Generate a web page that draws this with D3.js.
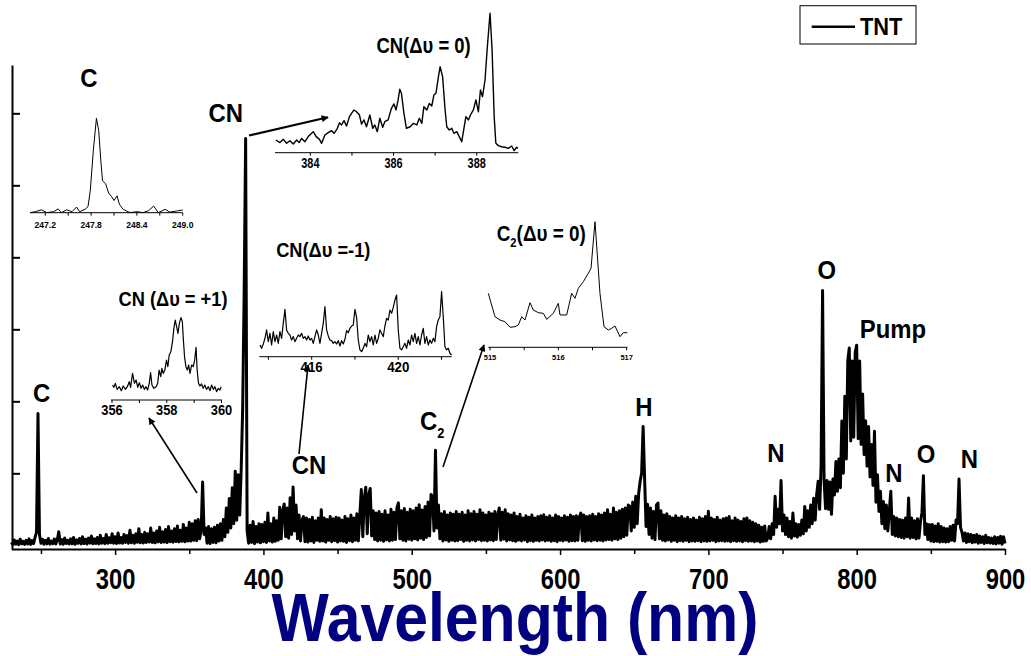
<!DOCTYPE html>
<html><head><meta charset="utf-8">
<script src="https://cdn.jsdelivr.net/npm/d3@7"></script>
<style>body{margin:0;background:#fff}svg{display:block}</style>
</head><body>
<svg id="chart" width="1031" height="656"></svg>
<script>
const FONT = "'Liberation Sans', Arial, Helvetica, sans-serif";

// ---------------- main spectrum (1 nm sampling, counts) ----------------
const mainStart = 230, mainStep = 1;
const mainCounts = [
 40,12,75,15,60,10,85,20,55,14,
 70,18,90,12,65,25,110,180,1830,150,
 30,85,14,70,20,95,16,60,22,88,
 18,75,190,20,80,15,100,25,70,18,
 90,20,110,16,75,28,95,20,120,24,
 85,18,100,30,130,22,90,26,110,20,
 140,30,95,24,150,28,105,35,160,30,
 120,26,170,32,110,28,150,40,135,30,
 210,35,140,30,160,42,230,36,150,32,
 180,38,160,45,240,40,170,35,200,48,
 250,40,190,46,220,38,260,50,200,44,
 230,52,270,48,210,56,290,50,240,60,
 320,60,300,70,340,65,360,90,210,880,
 150,240,30,260,25,230,40,250,35,280,
 60,300,70,360,120,520,180,650,240,800,
 300,1030,350,980,420,1050,1900,3500,5650,200,
 30,280,40,330,25,260,45,300,35,290,
 50,320,40,450,60,300,45,380,55,340,
 70,530,90,480,575,120,520,100,660,150,
 810,200,560,90,420,60,350,400,50,380,
 45,360,60,390,40,340,70,380,55,495,
 60,380,45,360,70,400,50,370,65,390,
 45,380,60,350,55,400,40,370,65,420,
 50,380,70,440,60,420,775,120,650,806,
 160,700,790,130,480,80,450,60,470,70,
 430,55,480,75,420,60,500,70,460,80,
 520,590,90,480,70,510,60,460,85,500,
 70,480,90,520,75,565,100,490,80,540,
 110,600,130,705,680,200,1320,240,560,90,
 440,60,470,75,420,55,450,70,430,60,
 470,65,430,80,460,55,420,70,480,60,
 440,75,470,60,430,80,495,65,450,70,
 420,60,460,75,440,65,470,80,430,518,
 70,460,85,495,60,440,75,420,65,450,
 55,400,70,430,60,380,75,410,50,390,
 65,420,55,380,70,400,60,410,75,425,
 60,390,70,410,55,380,65,420,50,400,
 70,380,60,410,75,390,55,420,65,400,
 60,410,70,390,448,65,420,55,400,70,
 410,60,430,75,400,65,440,70,420,60,
 450,75,495,80,430,70,518,90,460,80,
 480,100,500,120,520,140,560,540,200,600,
 250,680,300,720,890,1000,1650,935,260,570,
 150,520,100,470,80,560,587,90,480,70,
 420,60,440,75,400,55,380,70,410,50,
 380,65,400,55,370,70,390,50,360,60,
 380,55,350,65,390,50,370,60,400,55,
 472,60,380,70,360,50,390,60,350,65,
 370,55,380,60,400,50,340,65,380,55,
 350,60,330,50,370,65,380,55,340,60,
 320,50,300,60,280,45,250,55,270,60,
 100,260,90,300,150,680,250,500,300,900,
 200,420,150,380,120,330,100,448,130,300,
 115,290,140,350,160,540,200,480,250,560,
 300,653,350,700,889,500,1100,3540,917,508,
 900,500,880,430,920,700,1165,750,1200,800,
 1725,1000,2070,1200,2560,2740,1450,2560,1500,2680,
 2780,1480,2560,1400,2100,1260,1730,1100,1650,950,
 1400,830,1585,600,980,470,750,300,610,230,
 560,200,480,751,150,400,130,380,120,360,
 110,350,100,380,120,657,100,380,110,340,
 90,370,100,330,450,968,150,300,80,290,
 60,290,50,270,55,300,45,260,50,240,
 45,230,50,260,70,280,60,350,300,920,
 250,180,60,170,40,160,50,150,35,140,
 45,150,30,130,40,120,25,140,35,110,
 30,100,25,120,20,110,30,125,15,120,
 25
];
const xTickValues = [300,400,500,600,700,800,900];
const xMinorTicks = [250,350,450,550,650,750,850];
const yTickValues = [1000,2000,3000,4000,5000,6000];

// ---------------- inset spectra (relative intensity %) ----------------
const insetC_w = [247.00,247.07,247.15,247.22,247.31,247.37,247.41,247.48,247.55,247.61,247.65,247.72,247.76,247.79,247.83,247.87,247.90,247.93,247.95,247.99,248.03,248.07,248.10,248.14,248.17,248.22,248.31,248.40,248.48,248.55,248.62,248.68,248.77,248.83,248.92,249.00];
const insetC_v = [-1,0,2,-1,0,3,-1,2,0,5,0,2.5,5.5,23,66,100,87,52,33,30,20,16,12,17,8,2.5,-1,0,-1,1,6,-1,2.5,-0.4,0.7,1.8];
const insetC_ticks = [247.2,247.8,248.4,249.0];
const insetC_minor = [247.5,248.1,248.7];

const insetCN0_w = [383.17,383.27,383.35,383.43,383.51,383.59,383.67,383.73,383.79,383.87,383.95,384.01,384.07,384.14,384.22,384.27,384.35,384.43,384.51,384.57,384.65,384.70,384.75,384.81,384.87,384.94,384.99,385.05,385.11,385.18,385.23,385.29,385.35,385.43,385.50,385.55,385.61,385.67,385.74,385.79,385.87,385.95,386.01,386.06,386.11,386.15,386.19,386.25,386.31,386.40,386.48,386.56,386.62,386.68,386.73,386.80,386.86,386.92,386.97,387.02,387.08,387.12,387.18,387.24,387.28,387.34,387.40,387.45,387.52,387.58,387.64,387.68,387.74,387.80,387.85,387.92,387.98,388.04,388.09,388.14,388.20,388.25,388.32,388.37,388.42,388.46,388.52,388.60,388.68,388.76,388.84,388.90,388.96,388.99];
const insetCN0_v = [7.3,5.4,7.8,4.9,6.8,4.4,7.3,5.4,8.5,6.1,9.8,11.7,13.4,9.8,7.8,4.9,11,12.7,14.1,12.2,15.9,20,18.3,21.5,17.6,24.4,26.8,29.3,28,25.6,19,22,17,25.6,15.9,18.3,13.4,23.2,16.6,20.7,22,30.5,33.7,29.3,36.6,44.4,41.5,26.8,15.9,17,19.5,18.3,23.2,19.5,31.7,29.3,34.1,32.2,40.2,41.5,53.7,61,53.7,29.3,17,14.6,15.9,12.2,13.4,9.8,6.1,13.4,24.4,22,25.6,29.3,36.6,28,43.9,39,51.2,73.2,100,73.2,24.4,4.9,3.2,2.4,2,1.2,2.9,-0.5,2,1.2];
const insetCN0_ticks = [384,385,386,387,388];
const insetCN0_labels = [384,386,388];

const insetCNp1_w = [356.02,356.07,356.12,356.19,356.27,356.34,356.41,356.49,356.56,356.63,356.68,356.75,356.82,356.88,356.94,357.00,357.06,357.12,357.18,357.24,357.30,357.36,357.41,357.46,357.53,357.61,357.67,357.72,357.78,357.82,357.87,357.93,357.99,358.04,358.09,358.15,358.21,358.26,358.31,358.36,358.41,358.46,358.52,358.57,358.60,358.65,358.70,358.75,358.80,358.85,358.91,358.97,359.02,359.07,359.11,359.16,359.21,359.27,359.33,359.39,359.45,359.52,359.58,359.64,359.70,359.76,359.82,359.88,359.94,359.99];
const insetCNp1_v = [6.9,3.7,9.2,0.9,4.6,-0.9,5.5,0.9,4.6,11.5,3.7,23,9.2,13.8,3.7,10.1,2.3,6.9,0.9,4.6,0,9.2,24,6.9,2.3,4.6,9.2,27.6,18.4,30,23,27.6,41.5,32.3,48.4,53,66.8,85.3,96.8,87.6,78.3,92.2,100,94.5,73.7,46,32.3,27.6,34.6,23,34.6,32.3,41.5,59,27.6,9.2,5.5,8.3,2.3,6.9,0.9,4.6,-0.9,6.9,0.9,4.6,-2.3,2.3,0,4.6];
const insetCNp1_ticks = [356,357,358,359,360];
const insetCNp1_labels = [356,358,360];

const insetCNm1_start = 413.61, insetCNm1_step = 0.077;
const insetCNm1_v = [5.9,0,7.6,17.6,32.4,11.8,26.5,5.9,29.4,11.8,
 23.5,8.8,29.4,17.6,44.1,68.8,32.4,26.5,23.5,14.7,
 20.6,11.8,17.6,23.5,20.6,26.5,17.6,20.6,14.7,21.8,
 14.7,17.6,8.8,20.6,32.4,23.5,8.8,26.5,44.1,73.5,
 32.4,21.8,14.7,13.5,8.8,11.8,7.6,13.5,4.1,13.5,
 7.6,15.9,31.2,27.6,35.3,39.4,41.2,68.8,54.7,14.7,
 -2.9,-5.9,0,8.8,2.9,23.5,11.8,20.6,5.9,23.5,
 8.8,17.6,32.4,26.5,20.6,39.4,52.9,50,67.6,61.8,
 72.4,85.3,94.1,32.4,0,-2.9,2.9,8.8,0,14.7,
 5.9,23.5,11.8,26.5,8.8,20.6,5.9,23.5,35.3,8.8,
 20.6,5.9,14.7,8.8,17.6,11.8,38.2,50,55.9,100,
 55.9,2.9,-2.9,0,-8.8,-11.8];
const insetCNm1_ticks = [414,416,418,420,422];
const insetCNm1_labels = [416,420];

const insetC2_w = [514.975,515.073,515.146,515.219,515.293,515.366,515.414,515.464,515.512,515.585,515.634,515.707,515.780,515.830,515.926,515.999,516.024,516.122,516.195,516.244,516.292,516.365,516.438,516.478,516.536,516.609,516.668,516.731,516.780,516.829,516.902,516.950,517.009];
const insetC2_v = [37.7,17.4,14.5,13,8.2,8.7,10.2,17.4,14.5,29.6,23.2,20.9,20.3,15.1,20.3,29,18.9,18.9,37.7,33.4,42.1,47.8,55.1,59.5,100,37.7,8.7,5.8,7.3,9.3,0,3.5,3.5];
const insetC2_ticks = [515,515.5,516,516.5,517];
const insetC2_labels = [515,516,517];

const legendLabel = "TNT";
const axisTitle = "Wavelength (nm)";

// ---------------- drawing ----------------
const svg = d3.select("#chart");
svg.append("rect").attr("width",1031).attr("height",656).attr("fill","#fff");

const x = d3.scaleLinear().domain([230, 900]).range([11.3, 1005]);
const y = d3.scaleLinear().domain([-51, 6671]).range([549, 65]);

function label(g, s, px, py, size, sx, anchor, fill) {
  return g.append("text")
    .attr("transform", `translate(${px},${py}) scale(${sx},1)`)
    .attr("text-anchor", anchor || "middle")
    .attr("font-family", FONT).attr("font-weight", "bold")
    .attr("font-size", size).attr("fill", fill || "#000")
    .text(s);
}

const mainData = mainCounts.map((c, i) => [mainStart + i * mainStep, c]);
svg.append("path").datum(mainData)
  .attr("fill", "none").attr("stroke", "#000").attr("stroke-width", 3)
  .attr("stroke-linejoin", "round")
  .attr("d", d3.line().x(d => x(d[0])).y(d => y(d[1])));

// x axis
const xAxisG = svg.append("g").attr("transform", "translate(0,549)");
xAxisG.call(d3.axisBottom(x).tickValues(xTickValues).tickSize(6).tickSizeOuter(0).tickFormat(d3.format("d")));
xAxisG.select(".domain").attr("stroke-width", 2);
xAxisG.selectAll(".tick line").attr("stroke-width", 1.5);
xAxisG.selectAll(".tick text")
  .attr("y", 40).attr("dy", 0)
  .attr("transform", "scale(0.82,1)")
  .attr("font-family", FONT).attr("font-weight", "bold").attr("font-size", 29).attr("fill", "#000");
const xMinorG = svg.append("g").attr("transform", "translate(0,549)");
xMinorG.call(d3.axisBottom(x).tickValues(xMinorTicks).tickSize(5).tickSizeOuter(0).tickFormat(""));
xMinorG.select(".domain").remove();
xMinorG.selectAll(".tick line").attr("stroke-width", 1.5);

// y axis
const yAxisG = svg.append("g").attr("transform", "translate(12,0)");
yAxisG.call(d3.axisRight(y).tickValues(yTickValues).tickSize(8).tickSizeOuter(0).tickFormat(""));
yAxisG.select(".domain").attr("stroke-width", 2);
yAxisG.selectAll(".tick line").attr("stroke-width", 2);

// axis title
label(svg, axisTitle, 515, 641, 69, 0.88, "middle", "#000080");

// legend
svg.append("rect").attr("x", 800).attr("y", 5.7).attr("width", 116).attr("height", 38.3)
  .attr("fill", "#fff").attr("stroke", "#000").attr("stroke-width", 1);
svg.append("line").attr("x1", 811.7).attr("x2", 855).attr("y1", 26.7).attr("y2", 26.7)
  .attr("stroke", "#000").attr("stroke-width", 2.5);
label(svg, legendLabel, 860, 35, 23, 0.95, "start");

// insets
function drawInset(cfg) {
  const g = svg.append("g");
  const ix = d3.scaleLinear().domain(cfg.xDomain).range(cfg.xRange);
  const iy = d3.scaleLinear().domain([0, 100]).range(cfg.yRange);
  g.append("line").attr("x1", cfg.axisX[0]).attr("x2", cfg.axisX[1])
    .attr("y1", cfg.axisY).attr("y2", cfg.axisY).attr("stroke", "#000").attr("stroke-width", 1);
  cfg.ticks.forEach(t => g.append("line").attr("x1", ix(t)).attr("x2", ix(t))
    .attr("y1", cfg.axisY).attr("y2", cfg.axisY + cfg.tickLen).attr("stroke", "#000").attr("stroke-width", 1));
  cfg.labels.forEach(t => label(g, cfg.fmt(t), ix(t), cfg.labelY, cfg.labelSize, cfg.labelSx));
  const pts = cfg.w.map((w, i) => [w, cfg.v[i]]);
  g.append("path").datum(pts).attr("fill", "none").attr("stroke", "#000")
    .attr("stroke-width", cfg.lw).attr("stroke-linejoin", "round")
    .attr("d", d3.line().x(d => ix(d[0])).y(d => iy(d[1])));
}

drawInset({ w: insetC_w, v: insetC_v, xDomain: [247.0, 249.0], xRange: [30, 182.7],
  yRange: [211.7, 118.3], axisY: 212.7, axisX: [30, 182.7],
  ticks: insetC_ticks.concat(insetC_minor), tickLen: 3, labels: insetC_ticks,
  fmt: d3.format(".1f"), labelY: 228.3, labelSize: 9.5, labelSx: 0.9, lw: 1 });

drawInset({ w: insetCN0_w, v: insetCN0_v, xDomain: [383.15, 389.0], xRange: [275, 518.3],
  yRange: [150, 13.3], axisY: 152.7, axisX: [275, 518.3],
  ticks: insetCN0_ticks, tickLen: 3, labels: insetCN0_labels,
  fmt: d3.format("d"), labelY: 168.3, labelSize: 14, labelSx: 0.78, lw: 1.4 });

drawInset({ w: insetCNp1_w, v: insetCNp1_v, xDomain: [356, 360], xRange: [112, 221.5],
  yRange: [390, 317.7], axisY: 400, axisX: [111, 222],
  ticks: insetCNp1_ticks, tickLen: 3, labels: insetCNp1_labels,
  fmt: d3.format("d"), labelY: 415, labelSize: 14, labelSx: 0.92, lw: 1.2 });

drawInset({ w: insetCNm1_v.map((_, i) => insetCNm1_start + i * insetCNm1_step), v: insetCNm1_v,
  xDomain: [413.58, 422.47], xRange: [259.3, 451.7],
  yRange: [348.3, 291.7], axisY: 356.7, axisX: [259.3, 451.7],
  ticks: insetCNm1_ticks, tickLen: 3, labels: insetCNm1_labels,
  fmt: d3.format("d"), labelY: 372, labelSize: 14, labelSx: 0.95, lw: 1.2 });

drawInset({ w: insetC2_w, v: insetC2_v, xDomain: [515, 517], xRange: [490, 626.7],
  yRange: [336.7, 221.7], axisY: 347.3, axisX: [488.3, 627.3],
  ticks: insetC2_ticks, tickLen: 3, labels: insetC2_labels,
  fmt: d3.format("d"), labelY: 360, labelSize: 7.5, labelSx: 1, lw: 1 });

// arrows
const defs = svg.append("defs");
defs.append("marker").attr("id", "ah").attr("viewBox", "0 0 10 10")
  .attr("refX", 9).attr("refY", 5).attr("markerWidth", 10).attr("markerHeight", 7)
  .attr("markerUnits", "userSpaceOnUse").attr("orient", "auto")
  .append("path").attr("d", "M0,0 L10,5 L0,10 z").attr("fill", "#000");
const arrows = [
  { from: [249, 135.5], to: [328, 117.3], w: 2.2 },
  { from: [197, 493], to: [149, 418], w: 1.6 },
  { from: [299, 454], to: [308, 365], w: 1.6 },
  { from: [443, 467], to: [484, 345], w: 1.6 }
];
arrows.forEach(a => svg.append("line")
  .attr("x1", a.from[0]).attr("y1", a.from[1]).attr("x2", a.to[0]).attr("y2", a.to[1])
  .attr("stroke", "#000").attr("stroke-width", a.w).attr("marker-end", "url(#ah)"));

// peak labels
const peakFont = 26, peakSx = 0.92;
const peakLabels = [
  { t: "C", x: 41.7, y: 401.5 },
  { t: "C", x: 89, y: 86.7 },
  { t: "CN", x: 225.7, y: 121.7 },
  { t: "CN", x: 309, y: 474.3 },
  { t: "H", x: 643.8, y: 416 },
  { t: "N", x: 776, y: 461.7 },
  { t: "O", x: 826.7, y: 279 },
  { t: "Pump", x: 893, y: 338 },
  { t: "N", x: 894, y: 481.7 },
  { t: "O", x: 926, y: 462.7 },
  { t: "N", x: 969.5, y: 468.3 }
];
peakLabels.forEach(p => label(svg, p.t, p.x, p.y, peakFont, peakSx));

// C2 label with subscript
const c2 = svg.append("text").attr("transform", "translate(420,430) scale(0.92,1)")
  .attr("font-family", FONT).attr("font-weight", "bold").attr("font-size", peakFont);
c2.append("tspan").text("C");
c2.append("tspan").attr("font-size", 14).attr("dy", 8).text("2");

// inset titles
label(svg, "CN(\u0394\u03C5 = 0)", 423.6, 53.3, 22, 0.84);
label(svg, "CN (\u0394\u03C5 = +1)", 173, 306, 21, 0.87);
label(svg, "CN(\u0394\u03C5 =-1)", 323.3, 256.7, 21, 0.87);
const c2t = svg.append("text").attr("transform", "translate(496.7,241) scale(0.86,1)")
  .attr("font-family", FONT).attr("font-weight", "bold").attr("font-size", 22);
c2t.append("tspan").text("C");
c2t.append("tspan").attr("font-size", 13).attr("dy", 6).text("2");
c2t.append("tspan").attr("dy", -6).text("(\u0394\u03C5 = 0)");
</script>
</body></html>
